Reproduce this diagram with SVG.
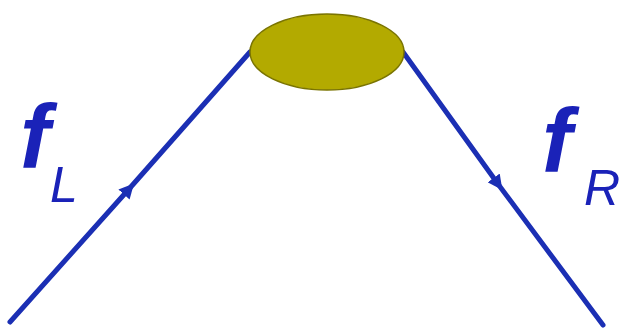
<svg xmlns="http://www.w3.org/2000/svg" width="622" height="331" viewBox="0 0 622 331">
<style>
.line{stroke:#1b2fb4;stroke-width:5;fill:none;stroke-linecap:round}
.lbl{font-family:"Liberation Sans",Arial,sans-serif;font-style:italic;fill:#1a22b8}
.big{font-size:90px;font-weight:bold}
.sub{font-size:50px}
</style>
<defs>
<marker id="arr" viewBox="0 0 10 10" refX="5" refY="5" markerWidth="3" markerHeight="3" orient="auto" markerUnits="strokeWidth">
<path d="M0,0 L10,5 L0,10 z" fill="#1b2fb4"/>
</marker>
</defs>
<rect width="622" height="331" fill="#ffffff"/>
<g id="connectors">
<path class="line" d="M10,322 L129,189" marker-end="url(#arr)"/>
<path class="line" d="M129,189 L250,52"/>
<path class="line" d="M403,52 L498,184" marker-end="url(#arr)"/>
<path class="line" d="M498,184 L603,325"/>
</g>
<g id="vertex">
<ellipse cx="327" cy="52" rx="77" ry="38" fill="#b3aa00" stroke="#7a7400" stroke-width="1.5"/>
</g>
<g id="label-fL">
<text class="lbl big" x="20" y="168">f</text>
<text class="lbl sub" x="50" y="202">L</text>
</g>
<g id="label-fR">
<text class="lbl big" x="542" y="172">f</text>
<text class="lbl sub" x="584" y="205">R</text>
</g>
</svg>
